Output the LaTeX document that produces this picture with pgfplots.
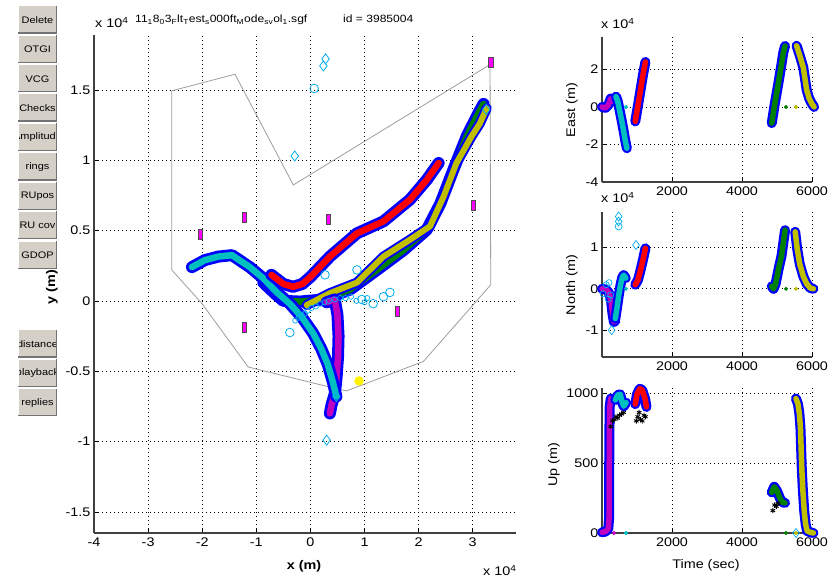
\documentclass[border=0pt]{standalone}
\usepackage{fontspec}
\setmainfont{Liberation Sans}[FakeStretch=1.15]
\usepackage{pgfplots}
\pgfplotsset{compat=1.18}
\definecolor{mcyan}{rgb}{0,0.75,0.75}
\definecolor{mpurple}{rgb}{0.75,0,0.75}
\definecolor{mgreen}{rgb}{0,0.5,0}
\definecolor{molive}{rgb}{0.75,0.75,0}
\definecolor{mmag}{rgb}{1,0,1}
\definecolor{btnc}{HTML}{D4D0C8}
\definecolor{mgray}{rgb}{0.62,0.62,0.62}
\newcommand{\tickfont}{\fontsize{12.5}{13}\selectfont}
\newcommand{\btnfont}{\fontsize{9.5}{10}\selectfont}
\pgfplotsset{
 mstyle/.style={
   scale only axis, axis x line*=bottom, axis y line*=left, scaled ticks=false,
   grid=major, grid style={black, line width=0.7pt, dash pattern=on 0.7pt off 3.3pt},
   tick align=inside, major tick length=4pt, tick style={black, line width=0.6pt},
   axis line style={black!75, line width=1.4pt},
   ticklabel style={font=\tickfont},
   xticklabel style={yshift=-1pt},
 },
 tb/.style={blue, line width=#1, line cap=round, line join=round},
 tc/.style 2 args={#1, line width=#2, line cap=round, line join=round},
}
\newcommand{\btn}[2]{%
 \pgfmathsetmacro\yt{577-#1}%
 \pgfmathsetmacro\yb{577-#1-27}%
 \pgfmathsetmacro\ym{577-#1-14}%
 \begin{scope}
 \fill[btnc] (18pt,\yt pt) rectangle (57pt,\yb pt);
 \draw[white,line width=1pt] (18.5pt,\yb pt) -- (18.5pt,\yt pt) -- (57pt,\yt pt);
 \draw[black!55,line width=1.2pt] (18pt,\yb pt) -- (56.4pt,\yb pt) -- (56.4pt,\yt pt);
 \clip (19pt,\yt pt) rectangle (55.8pt,\yb pt);
 \node[font=\btnfont, inner sep=0pt] at (37.5pt,\ym pt) {#2};
 \end{scope}
}
\begin{document}
\begin{tikzpicture}
\fill[white] (0pt,0pt) rectangle (834pt,577pt);
\useasboundingbox (0pt,0pt) rectangle (834pt,577pt);

% buttons
\btn{6}{Delete}
\btn{35.5}{OTGI}
\btn{64.8}{VCG}
\btn{94}{Checks}
\btn{123.5}{Amplitude}
\btn{153}{rings}
\btn{182.3}{RUpos}
\btn{211.5}{RU cov}
\btn{241.5}{GDOP}
\btn{330}{distance}
\btn{359.3}{playback}
\btn{388.6}{replies}

% main axis
\begin{axis}[mstyle, at={(94pt,44pt)}, anchor=south west, width=422pt, height=498pt,
 xmin=-4, xmax=3.8, ymin=-1.65, ymax=1.89,
 xtick={-4,-3,-2,-1,0,1,2,3}, xticklabels={-4,-3,-2,-1,0,1,2,3},
 ytick={-1.5,-1,-0.5,0,0.5,1,1.5}, yticklabels={-1.5,-1,-0.5,0,0.5,1,1.5}]
\addplot[mgray, line width=0.8pt] coordinates {(-2.564,1.493) (-1.394,1.611) (-0.316,0.824) (3.32,1.68) (3.333,0.114) (2.09,-0.43) (0.67,-0.64) (0.33,-0.61) (-1.15,-0.47) (-2.01,-0.016) (-2.564,0.22) (-2.564,1.493)};
% green
\addplot[tb=12pt] coordinates {(-0.87,0.13) (-0.65,0.05) (-0.50,0.0) (-0.19,-0.005) (0.24,0.01) (0.73,0.08) (1.23,0.22) (1.72,0.36) (2.15,0.505) (2.40,0.69) (2.64,0.93) (2.89,1.17) (3.10,1.33) (3.20,1.40)};
\addplot[tc={mgreen}{6.5pt}] coordinates {(-0.87,0.13) (-0.65,0.05) (-0.50,0.0) (-0.19,-0.005) (0.24,0.01) (0.73,0.08) (1.23,0.22) (1.72,0.36) (2.15,0.505) (2.40,0.69) (2.64,0.93) (2.89,1.17) (3.10,1.33) (3.20,1.40)};
% olive
\addplot[tb=10pt] coordinates {(-0.07,-0.03) (0.36,0.055) (0.86,0.13) (1.35,0.315) (1.84,0.435) (2.21,0.53) (2.46,0.74) (2.70,0.98) (2.98,1.17) (3.13,1.26) (3.26,1.37)};
\addplot[tc={molive}{6pt}] coordinates {(-0.07,-0.03) (0.36,0.055) (0.86,0.13) (1.35,0.315) (1.84,0.435) (2.21,0.53) (2.46,0.74) (2.70,0.98) (2.98,1.17) (3.13,1.26) (3.26,1.37)};
% purple
\addplot[tb=12pt] coordinates {(0.30,-0.01) (0.45,0.01) (0.50,-0.10) (0.52,-0.25) (0.51,-0.40) (0.48,-0.56) (0.45,-0.66) (0.39,-0.74) (0.36,-0.80)};
\addplot[tc={mpurple}{6.5pt}] coordinates {(0.30,-0.01) (0.45,0.01) (0.50,-0.10) (0.52,-0.25) (0.51,-0.40) (0.48,-0.56) (0.45,-0.66) (0.39,-0.74) (0.36,-0.80)};
% cyan
\addplot[tb=12pt] coordinates {(-2.19,0.24) (-1.95,0.29) (-1.70,0.315) (-1.45,0.325) (-1.12,0.24) (-0.87,0.16) (-0.62,0.06) (-0.38,-0.02) (-0.15,-0.12) (0.05,-0.23) (0.20,-0.34) (0.32,-0.45) (0.41,-0.57) (0.48,-0.68)};
\addplot[tc={mcyan}{6.5pt}] coordinates {(-2.19,0.24) (-1.95,0.29) (-1.70,0.315) (-1.45,0.325) (-1.12,0.24) (-0.87,0.16) (-0.62,0.06) (-0.38,-0.02) (-0.15,-0.12) (0.05,-0.23) (0.20,-0.34) (0.32,-0.45) (0.41,-0.57) (0.48,-0.68)};
% red
\addplot[tb=12pt] coordinates {(-0.72,0.185) (-0.50,0.12) (-0.32,0.10) (-0.15,0.12) (0.0,0.17) (0.36,0.315) (0.86,0.48) (1.35,0.565) (1.84,0.72) (2.15,0.86) (2.37,0.98)};
\addplot[tc={red}{6.5pt}] coordinates {(-0.72,0.185) (-0.50,0.12) (-0.32,0.10) (-0.15,0.12) (0.0,0.17) (0.36,0.315) (0.86,0.48) (1.35,0.565) (1.84,0.72) (2.15,0.86) (2.37,0.98)};
% cyan markers
\addplot[only marks, mark=o, cyan, mark size=4.3pt, line width=0.8pt] coordinates {(0.07,1.51) (-0.38,-0.225) (1.47,0.06) (1.35,0.03) (1.16,-0.02) (0.95,0.01) (0.86,0.22) (0.27,0.185)};
\addplot[only marks, mark=o, cyan, mark size=2.6pt, line width=0.7pt] coordinates {(-0.28,-0.14) (-0.22,-0.12) (-0.16,-0.10) (-0.1,-0.09) (-0.05,-0.07) (0.02,-0.05) (0.1,-0.04) (0.18,-0.02) (0.26,-0.01) (0.34,0.0) (0.45,0.01) (0.55,0.02) (0.65,0.02) (0.75,0.03) (0.85,0.0) (1.0,-0.01) (1.05,0.02)};
\addplot[only marks, mark=diamond, cyan, mark size=5pt, line width=0.8pt] coordinates {(0.28,1.72) (0.24,1.67) (-0.29,1.03) (0.30,-0.99) (0.48,-0.68) (3.25,1.36)};
% stations
\addplot[only marks, mark=square*, mark size=5pt, mark options={xscale=0.42, fill=mmag, draw=black!70, line width=0.6pt}] coordinates {(-2.04,0.476) (-1.227,0.595) (0.331,0.583) (3.011,0.682) (3.333,1.696) (-1.227,-0.187) (1.606,-0.076)};
\addplot[only marks, mark=*, mark size=4.5pt, color=yellow] coordinates {(0.898,-0.569)};
\end{axis}

% East
\begin{axis}[mstyle, at={(602pt,395pt)}, anchor=south west, width=210pt, height=145pt, clip=false,
 xmin=0, xmax=6000, ymin=-4, ymax=3.73,
 xtick={2000,4000,6000}, xticklabels={2000,4000,6000},
 ytick={-4,-2,0,2}, yticklabels={-4,-2,0,2}]
\addplot[tb=10pt] coordinates {(0,0) (100,-0.05) (180,0.1) (250,0.45) (300,0.3) (350,0.45) (400,0.5)};
\addplot[tc={mpurple}{5.5pt}] coordinates {(0,0) (100,-0.05) (180,0.1) (250,0.45) (300,0.3) (350,0.45) (400,0.5)};
\addplot[tb=10pt] coordinates {(400,0.55) (450,0.3) (500,-0.15) (560,-0.7) (620,-1.3) (665,-1.8) (710,-2.2)};
\addplot[tc={mcyan}{5.5pt}] coordinates {(400,0.55) (450,0.3) (500,-0.15) (560,-0.7) (620,-1.3) (665,-1.8) (710,-2.2)};
\addplot[tb=10pt] coordinates {(950,-0.77) (1030,0.1) (1100,0.9) (1170,1.7) (1240,2.4)};
\addplot[tc={red}{5.5pt}] coordinates {(950,-0.77) (1030,0.1) (1100,0.9) (1170,1.7) (1240,2.4)};
\addplot[tb=10pt] coordinates {(4850,-0.86) (4930,0.1) (5038,1.25) (5130,2.3) (5180,2.9) (5230,3.25)};
\addplot[tc={mgreen}{5.5pt}] coordinates {(4850,-0.86) (4930,0.1) (5038,1.25) (5130,2.3) (5180,2.9) (5230,3.25)};
\addplot[tb=10pt] coordinates {(5560,3.26) (5650,2.75) (5752,2.1) (5800,1.5) (5848,0.9) (5920,0.45) (5990,0.19) (6060,0.0)};
\addplot[tc={molive}{5.5pt}] coordinates {(5560,3.26) (5650,2.75) (5752,2.1) (5800,1.5) (5848,0.9) (5920,0.45) (5990,0.19) (6060,0.0)};
\addplot[only marks, mark=*, mark size=1.8pt, mcyan] coordinates {(686,0)};
\addplot[only marks, mark=*, mark size=1.8pt, mgreen] coordinates {(5257,0)};
\addplot[only marks, mark=*, mark size=1.8pt, molive] coordinates {(5543,0)};
\end{axis}

% North
\begin{axis}[mstyle, at={(602pt,220pt)}, anchor=south west, width=210pt, height=145pt, clip=false,
 xmin=0, xmax=6000, ymin=-1.65, ymax=1.86,
 xtick={2000,4000,6000}, xticklabels={2000,4000,6000},
 ytick={-1,0,1}, yticklabels={-1,0,1}]
\addplot[only marks, mark=o, cyan, mark size=3pt, line width=0.7pt] coordinates {(30,-0.12) (120,0.1) (200,0.15) (250,-0.15) (180,-0.25)};
\addplot[tb=10pt] coordinates {(0,0) (120,-0.02) (200,-0.1) (260,-0.3) (300,-0.6) (340,-0.8) (380,-0.78)};
\addplot[tc={mpurple}{5.5pt}] coordinates {(0,0) (120,-0.02) (200,-0.1) (260,-0.3) (300,-0.6) (340,-0.8) (380,-0.78)};
\addplot[tb=10pt] coordinates {(380,-0.72) (430,-0.45) (480,-0.15) (530,0.1) (580,0.28) (620,0.33) (680,0.26)};
\addplot[tc={mcyan}{5.5pt}] coordinates {(380,-0.72) (430,-0.45) (480,-0.15) (530,0.1) (580,0.28) (620,0.33) (680,0.26)};
\addplot[tb=10pt] coordinates {(950,0.1) (1030,0.22) (1100,0.45) (1170,0.7) (1240,0.98)};
\addplot[tc={red}{5.5pt}] coordinates {(950,0.1) (1030,0.22) (1100,0.45) (1170,0.7) (1240,0.98)};
\addplot[tb=10pt] coordinates {(4850,0.06) (4900,0.0) (4960,0.12) (5050,0.5) (5130,0.8) (5230,1.42)};
\addplot[tc={mgreen}{5.5pt}] coordinates {(4850,0.06) (4900,0.0) (4960,0.12) (5050,0.5) (5130,0.8) (5230,1.42)};
\addplot[tb=10pt] coordinates {(5520,1.38) (5580,0.95) (5650,0.6) (5752,0.3) (5850,0.12) (5950,0.02) (6040,0.0)};
\addplot[tc={molive}{5.5pt}] coordinates {(5520,1.38) (5580,0.95) (5650,0.6) (5752,0.3) (5850,0.12) (5950,0.02) (6040,0.0)};
\addplot[only marks, mark=diamond, cyan, mark size=4.5pt, line width=0.7pt] coordinates {(476,1.75) (476,1.63) (971,1.06) (276,-1.0)};
\addplot[only marks, mark=o, cyan, mark size=3.5pt, line width=0.7pt] coordinates {(476,1.51)};
\addplot[only marks, mark=*, mark size=1.8pt, mcyan] coordinates {(686,0)};
\addplot[only marks, mark=*, mark size=1.8pt, mgreen] coordinates {(5257,0)};
\addplot[only marks, mark=*, mark size=1.8pt, molive] coordinates {(5543,0)};
\end{axis}

% Up
\begin{axis}[mstyle, at={(602pt,44pt)}, anchor=south west, width=210pt, height=145pt, clip=false,
 xmin=0, xmax=6000, ymin=0, ymax=1035,
 xtick={2000,4000,6000}, xticklabels={2000,4000,6000},
 ytick={0,500,1000}, yticklabels={0,500,1000}]
\addplot[tb=10pt] coordinates {(0,5) (100,10) (180,30) (200,100) (205,400) (210,700) (220,900) (250,960)};
\addplot[tc={mpurple}{5.5pt}] coordinates {(0,5) (100,10) (180,30) (200,100) (205,400) (210,700) (220,900) (250,960)};
\addplot[tb=10pt] coordinates {(380,950) (450,985) (520,990) (580,930) (620,905) (690,930)};
\addplot[tc={mcyan}{5.5pt}] coordinates {(380,950) (450,985) (520,990) (580,930) (620,905) (690,930)};
\addplot[tb=10pt] coordinates {(950,920) (1000,990) (1080,1030) (1150,1020) (1230,960) (1270,900)};
\addplot[tc={red}{5.5pt}] coordinates {(950,920) (1000,990) (1080,1030) (1150,1020) (1230,960) (1270,900)};
\addplot[tb=10pt] coordinates {(4850,290) (4920,330) (5000,300) (5080,250) (5150,220) (5230,215)};
\addplot[tc={mgreen}{5.5pt}] coordinates {(4850,290) (4920,330) (5000,300) (5080,250) (5150,220) (5230,215)};
\addplot[tb=10pt] coordinates {(5540,960) (5600,920) (5640,850) (5670,750) (5690,600) (5710,450) (5740,300) (5780,150) (5820,60) (5860,15) (5950,5) (6040,0)};
\addplot[tc={molive}{5.5pt}] coordinates {(5540,960) (5600,920) (5640,850) (5670,750) (5690,600) (5710,450) (5740,300) (5780,150) (5820,60) (5860,15) (5950,5) (6040,0)};
\addplot[only marks, mark=asterisk, black, mark size=2.6pt, line width=0.9pt] coordinates {(250,760) (300,800) (350,810) (400,830) (450,820) (500,840) (560,850) (620,860) (980,800) (1020,830) (1060,860) (1100,810) (1150,800) (1200,840) (1240,830) (4880,160) (4930,200) (4980,190) (5030,210)};
\addplot[only marks, mark=*, mark size=1.8pt, mpurple] coordinates {(343,0)};
\addplot[only marks, mark=*, mark size=1.8pt, mcyan] coordinates {(686,0)};
\addplot[only marks, mark=*, mark size=1.8pt, mgreen] coordinates {(5257,0)};
\addplot[only marks, mark=diamond, cyan, mark size=4.5pt, line width=0.7pt] coordinates {(5543,0)};
\addplot[only marks, mark=*, mark size=1.8pt, molive] coordinates {(5543,0)};
\end{axis}

% labels and texts
\node[font=\bfseries\tickfont, rotate=90] at (52pt,290pt) {y (m)};
\node[font=\bfseries\tickfont] at (304pt,11pt) {x (m)};
\node[font=\tickfont, rotate=90] at (572pt,467pt) {East (m)};
\node[font=\tickfont, rotate=90] at (572pt,292pt) {North (m)};
\node[font=\tickfont, rotate=90] at (554pt,112pt) {Up (m)};
\node[font=\tickfont] at (706pt,12pt) {Time (sec)};
\node[font=\tickfont, anchor=base west, inner sep=0pt] at (95pt,549pt) {x 10\textsuperscript{4}};
\node[font=\tickfont, anchor=base west, inner sep=0pt] at (601pt,548pt) {x 10\textsuperscript{4}};
\node[font=\tickfont, anchor=base west, inner sep=0pt] at (601pt,374pt) {x 10\textsuperscript{4}};
\node[font=\tickfont, anchor=base west, inner sep=0pt] at (483pt,1.5pt) {x 10\textsuperscript{4}};
\node[font=\fontsize{10.5}{12}\selectfont, anchor=base west, inner sep=0pt] at (135pt,554pt) {11\textsubscript{1}8\textsubscript{0}3\textsubscript{F}lt\textsubscript{T}est\textsubscript{s}000ft\textsubscript{M}ode\textsubscript{sv}ol\textsubscript{1}.sgf};
\node[font=\fontsize{10.5}{12}\selectfont, anchor=base west, inner sep=0pt] at (343pt,554pt) {id = 3985004};
\end{tikzpicture}
\end{document}
